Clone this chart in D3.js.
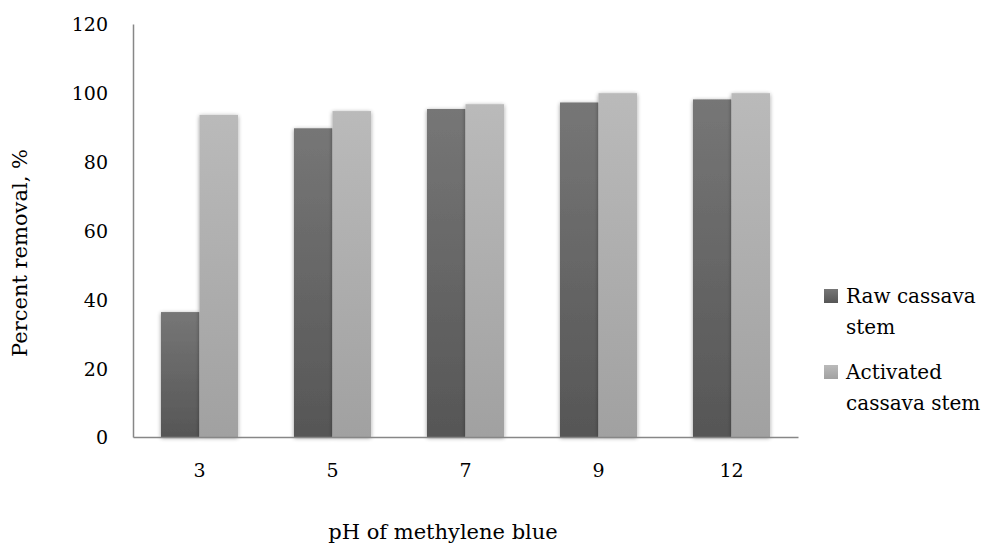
<!DOCTYPE html>
<html><head><meta charset="utf-8">
<script src="https://cdn.jsdelivr.net/npm/d3@7"></script>
<style>body{margin:0;background:#fff}svg{display:block}text{font-family:"DejaVu Serif",serif;fill:#000}</style>
</head><body>
<script>
const categories = ["3","5","7","9","12"];
const seriesNames = ["Raw cassava stem","Activated cassava stem"];
const rawValues = [36.3, 89.7, 95.3, 97.2, 98.1];
const activatedValues = [93.6, 94.7, 96.7, 99.9, 99.9];
const yTicks = [0,20,40,60,80,100,120];

const W=982,H=544;
const svg=d3.select("body").append("svg").attr("width",W).attr("height",H);
const defs=svg.append("defs");
const grads=[["g0","#767676","#565656"],["g1","#bababa","#a1a1a1"]];
grads.forEach(([id,a,b])=>{
  const g=defs.append("linearGradient").attr("id",id).attr("x1",0).attr("y1",0).attr("x2",0).attr("y2",1);
  g.append("stop").attr("offset","0%").attr("stop-color",a);
  g.append("stop").attr("offset","100%").attr("stop-color",b);
});
const f=defs.append("filter").attr("id","sh").attr("x","-30%").attr("y","-10%").attr("width","160%").attr("height","120%");
f.append("feGaussianBlur").attr("in","SourceAlpha").attr("stdDeviation",2.2).attr("result","b");
f.append("feOffset").attr("in","b").attr("dx",0).attr("dy",1).attr("result","o");
f.append("feComponentTransfer").attr("in","o").attr("result","o2").append("feFuncA").attr("type","linear").attr("slope",0.4);
const fm=f.append("feMerge");fm.append("feMergeNode").attr("in","o2");fm.append("feMergeNode").attr("in","SourceGraphic");

const x0=d3.scaleBand().domain(categories).range([133,798]).paddingInner(0.421).paddingOuter(0.2105);
const x1=d3.scaleBand().domain([0,1]).range([0,x0.bandwidth()]);
const y=d3.scaleLinear().domain([0,120]).range([437,24]);

const data=categories.map((c,i)=>({c,v:[rawValues[i],activatedValues[i]]}));
const gg=svg.append("g").selectAll("g").data(data).join("g").attr("transform",d=>`translate(${x0(d.c)},0)`);
gg.selectAll("rect").data(d=>d.v.map((v,k)=>({v,k}))).join("rect")
  .attr("x",d=>x1(d.k)).attr("width",x1.bandwidth())
  .attr("y",d=>y(d.v)).attr("height",d=>y(0)-y(d.v))
  .attr("fill",d=>`url(#g${d.k})`).attr("filter","url(#sh)");

// axes
const yAxis=svg.append("g").attr("transform","translate(133,0)").call(d3.axisLeft(y).tickValues(yTicks).tickSize(0).tickPadding(25));
yAxis.select(".domain").attr("stroke","#878787").attr("stroke-width",1.5);
yAxis.selectAll("text").attr("font-size",19).attr("font-family","DejaVu Serif").attr("dy","0.36em");
const xAxis=svg.append("g").attr("transform","translate(0,437)").call(d3.axisBottom(x0).tickSize(0));
xAxis.select(".domain").attr("stroke","#878787").attr("stroke-width",1.5);
xAxis.selectAll("text").attr("font-size",19).attr("font-family","DejaVu Serif").attr("y",33).attr("dy","0.36em");

svg.append("text").attr("x",443).attr("y",539).attr("text-anchor","middle").attr("font-size",21).text("pH of methylene blue");
svg.append("text").attr("transform","translate(27,253) rotate(-90)").attr("text-anchor","middle").attr("font-size",21).text("Percent removal, %");

// legend
const leg=[{k:0,lines:["Raw cassava","stem"],y:296},{k:1,lines:["Activated","cassava stem"],y:372}];
leg.forEach(l=>{
  svg.append("rect").attr("x",824).attr("y",l.y-7).attr("width",14).attr("height",14).attr("fill",`url(#g${l.k})`);
  l.lines.forEach((t,i)=>svg.append("text").attr("x",846).attr("y",l.y+i*31).attr("dy","0.36em").attr("font-size",20).text(t));
});
</script>
</body></html>
